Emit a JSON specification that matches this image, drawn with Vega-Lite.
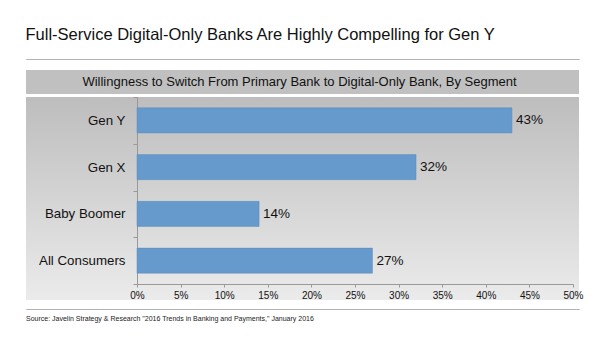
{
  "$schema": "https://vega.github.io/schema/vega-lite/v6.json",
  "padding": {"left": 25, "top": 27, "right": 5, "bottom": 5},
  "background": "white",
  "title": {
    "text": "Full-Service Digital-Only Banks Are Highly Compelling for Gen Y",
    "anchor": "start",
    "fontSize": 16.5,
    "font": "Liberation Sans",
    "fontWeight": "normal",
    "color": "#111111",
    "offset": 15,
    "dx": 0
  },
  "config": {"view": {"stroke": null}, "font": "Liberation Sans"},
  "vconcat": [
    {
      "spacing": -4,
      "vconcat": [
        {
          "spacing": 10,
          "vconcat": [
            {
              "width": 553,
              "height": 0.001,
              "view": {"stroke": "#999999", "strokeDash": [1, 1], "strokeWidth": 1},
              "data": {"values": [{"blank": ""}]},
              "mark": {"type": "text", "fontSize": 0},
              "encoding": {"text": {"field": "blank"}}
            },
            {
              "width": 553,
              "height": 24,
              "view": {"fill": "#c0c0c0", "stroke": null},
              "data": {"values": [{"subtitle": "Willingness to Switch From Primary Bank to Digital-Only Bank, By Segment"}]},
              "mark": {"type": "text", "fontSize": 13, "color": "#111111", "font": "Liberation Sans", "dx": -3},
              "encoding": {"text": {"field": "subtitle"}}
            }
          ]
        },
        {
          "width": 553,
          "height": 203,
          "view": {
            "stroke": null,
            "fill": {
              "gradient": "linear",
              "x1": 0, "y1": 0, "x2": 0, "y2": 1,
              "stops": [
                {"offset": 0, "color": "#bdbdbd"},
                {"offset": 1, "color": "#ebebeb"}
              ]
            }
          },
          "data": {
            "values": [
              {"segment": "Gen Y", "share": 0.43},
              {"segment": "Gen X", "share": 0.32},
              {"segment": "Baby Boomer", "share": 0.14},
              {"segment": "All Consumers", "share": 0.27}
            ]
          },
          "encoding": {
            "y": {
              "field": "segment",
              "type": "nominal",
              "sort": null,
              "scale": {"range": [0, 187], "paddingInner": 0, "paddingOuter": 0},
              "axis": {
                "title": null,
                "offset": -111,
                "tickBand": "extent",
                "domainColor": "#999999",
                "tickColor": "#999999",
                "tickSize": 4,
                "labelPadding": 8,
                "labelFontSize": 13.3,
                "labelColor": "#111111",
                "labelFont": "Liberation Sans"
              }
            },
            "x": {
              "field": "share",
              "type": "quantitative",
              "scale": {"domain": [0, 0.5], "range": [111, 547], "nice": false},
              "axis": {
                "title": null,
                "offset": -16,
                "format": ".0%",
                "values": [0, 0.05, 0.1, 0.15, 0.2, 0.25, 0.3, 0.35, 0.4, 0.45, 0.5],
                "grid": false,
                "labelFlush": false,
                "labelOverlap": false,
                "domainColor": "#999999",
                "tickColor": "#999999",
                "tickSize": 3,
                "labelPadding": 3,
                "labelFontSize": 10,
                "labelColor": "#111111",
                "labelFont": "Liberation Sans"
              }
            }
          },
          "layer": [
            {
              "mark": {"type": "bar", "color": "#6699cc", "stroke": "#5a8cbf", "strokeWidth": 0.5, "height": {"band": 0.535}}
            },
            {
              "mark": {"type": "text", "align": "left", "dx": 4, "fontSize": 13.5, "color": "#111111", "font": "Liberation Sans"},
              "encoding": {"text": {"field": "share", "format": ".0%"}}
            }
          ]
        }
      ]
    },
    {
      "width": 553,
      "height": 0.001,
      "view": {"stroke": "#999999", "strokeDash": [1, 1], "strokeWidth": 1},
      "title": {
        "text": "Source: Javelin Strategy & Research \"2016 Trends in Banking and Payments,\" January 2016",
        "orient": "bottom",
        "anchor": "start",
        "fontSize": 7,
        "fontWeight": "normal",
        "font": "Liberation Sans",
        "color": "#222222",
        "offset": 6
      },
      "data": {"values": [{"blank": ""}]},
      "mark": {"type": "text", "fontSize": 0},
      "encoding": {"text": {"field": "blank"}}
    }
  ],
  "spacing": 8
}
